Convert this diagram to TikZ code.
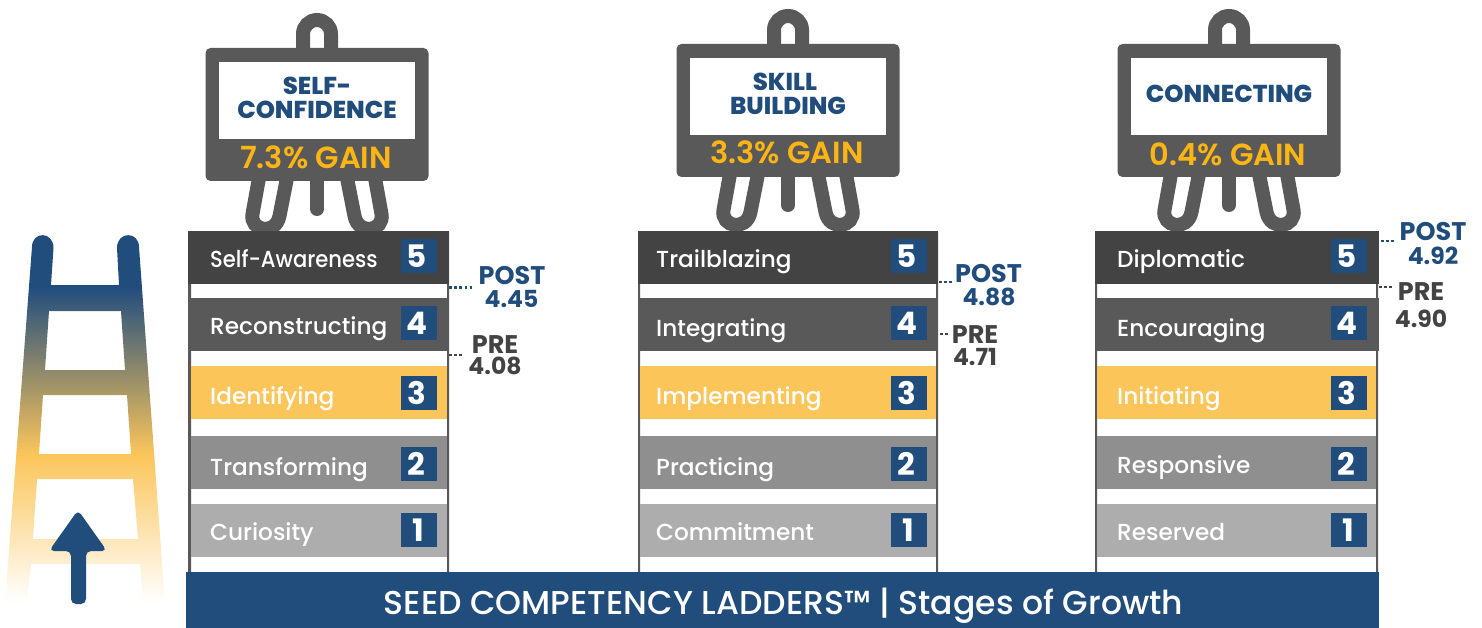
\documentclass[tikz,border=0pt]{standalone}
\usepackage{fontspec}
\usepackage{graphicx}
\setmainfont{Poppins}
\newfontfamily\pmed{Poppins}[UprightFont=* Medium]
\newfontfamily\psemi{Poppins}[UprightFont=* SemiBold]
\newfontfamily\pbold{Poppins}[UprightFont=* Bold]
\newfontfamily\pxbold{Poppins}[UprightFont=* ExtraBold]
\definecolor{navy}{HTML}{214D7D}
\definecolor{yel}{HTML}{FBC55A}
\definecolor{gold}{HTML}{FDB515}
\definecolor{g1}{HTML}{434343}
\definecolor{g2}{HTML}{595959}
\definecolor{g3}{HTML}{8F8F8F}
\definecolor{g4}{HTML}{ADADAD}
\pgfdeclareverticalshading{laddershade}{100bp}{color(0bp)=(white); color(25bp)=(white); color(45bp)=(yel); color(67.5bp)=(navy); color(100bp)=(navy)}
\tikzset{
  bar/.style={inner sep=0pt,outer sep=0pt,anchor=north west,draw=none},
  rowtext/.style={inner sep=0pt,anchor=base west,text=white,font=\pmed\fontsize{23.2}{23.2}\selectfont},
  numbox/.style={inner sep=0pt,anchor=north west,fill=navy,text=white,minimum width=36pt,minimum height=34pt,font=\pbold\fontsize{31}{31}\selectfont},
  lab/.style={inner sep=0pt,anchor=base,font=\pbold\fontsize{25.5}{25.5}\selectfont},
  val/.style={inner sep=0pt,anchor=base,font=\pbold\fontsize{23.5}{23.5}\selectfont},
  title/.style={inner sep=0pt,anchor=base,text=navy,font=\pxbold\fontsize{24.4}{24.4}\selectfont},
  gain/.style={inner sep=0pt,anchor=base,text=gold,font=\psemi\fontsize{30.5}{30.5}\selectfont},
  dotsline/.style={line width=2.4pt,dash pattern=on 2.6pt off 2.6pt},
  easelpart/.style={draw=g2,line width=14pt,fill=none},
}
% \boxx holds the x of the number boxes of the current table
% name, x0, x1, y0, colour, label x, baseline offset, label, number
\newcommand\rowbar[9]{%
  \node[bar,fill=#5,minimum width={(#3-#2)*1pt},minimum height=53pt] (#1) at (#2,#4) {};
  \node[rowtext] (#1t) at (#6,#4+#7) {#8};
  \node[numbox] (#1n) at (\boxx,#4+\ifcase#9 0\or 9\or 11\or 10\or 8\or 8\fi) {\raisebox{-1pt}{#9}\hspace*{\ifnum#9=1 2pt\else 5pt\fi}};
}
\newcommand\easel[1]{%
  \begin{scope}[shift={#1}]
    \draw[easelpart] (303,52) -- (303,34) .. controls (303,26.3) and (309.3,20) .. (317,20) .. controls (324.7,20) and (331,26.3) .. (331,34) -- (331,52);
    \draw[easelpart] (259,178) -- (252.5,214) .. controls (249.5,231) and (275.5,236) .. (279.5,216) -- (287,178);
    \draw[easelpart] (375,178) -- (381.5,214) .. controls (384.5,231) and (358.5,236) .. (354.5,216) -- (347,178);
    \draw[g2,line width=14pt,line cap=round] (317,178) -- (317,209);
    \fill[g2,rounded corners=5pt] (205.5,48) rectangle (428.5,181);
    \fill[white] (219,62) rectangle (415,139);
  \end{scope}
}
\begin{document}
\begin{tikzpicture}[x=1pt,y=-1pt]
\useasboundingbox (0,0) rectangle (1482,628);
% ladder
\shade[shading=laddershade,even odd rule]
  (32,247) .. controls (32,231) and (53.5,231) .. (53.5,248) -- (51,285) -- (119,285) -- (117,248)
  .. controls (117,231) and (139,231) .. (139,247) -- (165,603) -- (143,603) -- (140,564) -- (31,564) -- (27,603) -- (5,603) -- cycle
  (49,311) -- (121,311) -- (125,370) -- (45,370) -- cycle
  (43,395) -- (127,395) -- (131,454) -- (39,454) -- cycle
  (37,479) -- (133,479) -- (138,539) -- (33,539) -- cycle;
\fill[navy,rounded corners=5pt] (78,510) -- (107,551) -- (86,551) -- (86,604) -- (71,604) -- (71,551) -- (49,551) -- cycle;
% easels
\easel{(0,0)}
\easel{(471,-4)}
\easel{(912,-4)}
\node[title] (t1a) at (317,95) {SELF-};
\node[title] (t1b) at (317,119) {CONFIDENCE};
\node[gain] (g1t) at (316,169) {7.3\% GAIN};
\node[title] (t2a) at (785,91) {SKILL};
\node[title] (t2b) at (788,115) {BUILDING};
\node[gain] (g2t) at (787,164) {3.3\% GAIN};
\node[title] (t3a) at (1229,103) {CONNECTING};
\node[gain] (g3t) at (1228,166) {0.4\% GAIN};
% rails
\fill[g2] (188,232) rectangle (191,574) (447,232) rectangle (449,574);
\fill[g2] (638,232) rectangle (640,574) (936,232) rectangle (938,574);
\fill[g2] (1095,232) rectangle (1097,574) (1376,232) rectangle (1378,574);
% table 1
\def\boxx{401}
\rowbar{a5}{188}{449}{231}{g1}{210}{37}{\scalebox{0.91}[1]{Self-Awareness}}{5}
\rowbar{a4}{191}{447}{298}{g2}{210}{36}{Reconstructing}{4}
\rowbar{a3}{191}{447}{366}{yel}{210}{38}{Identifying}{3}
\rowbar{a2}{191}{447}{436}{g3}{210}{39}{Transforming}{2}
\rowbar{a1}{191}{447}{504}{g4}{210}{36}{Curiosity}{1}
% table 2
\def\boxx{891}
\rowbar{b5}{638}{938}{231}{g1}{656}{37}{Trailblazing}{5}
\rowbar{b4}{640}{936}{298}{g2}{656}{38}{Integrating}{4}
\rowbar{b3}{640}{936}{366}{yel}{656}{38}{Implementing}{3}
\rowbar{b2}{640}{936}{436}{g3}{656}{39}{Practicing}{2}
\rowbar{b1}{640}{936}{504}{g4}{656}{36}{Commitment}{1}
% table 3
\def\boxx{1331}
\rowbar{c5}{1095}{1379}{231}{g1}{1117}{37}{Diplomatic}{5}
\rowbar{c4}{1097}{1379}{298}{g2}{1117}{38}{Encouraging}{4}
\rowbar{c3}{1097}{1376}{366}{yel}{1117}{38}{Initiating}{3}
\rowbar{c2}{1097}{1376}{436}{g3}{1117}{37}{Responsive}{2}
\rowbar{c1}{1097}{1376}{504}{g4}{1117}{36}{Reserved}{1}
% base
\node[bar,fill=navy,minimum width=1193pt,minimum height=56pt] (base) at (186,572) {};
\node[inner sep=0pt,anchor=base,text=white,font=\pmed\fontsize{33}{33}\selectfont] (basetext) at (783.5,614) {SEED COMPETENCY LADDERS™ | Stages of Growth};
% score labels
\node[lab,text=navy] (post1) at (512,284) {POST};
\node[val,text=navy] (post1v) at (511.5,307) {4.45};
\node[lab,text=g1] (pre1) at (495,353) {PRE};
\node[val,text=g1] (pre1v) at (495,374) {4.08};
\node[lab,text=navy] (post2) at (988.5,282) {POST};
\node[val,text=navy] (post2v) at (989,305) {4.88};
\node[lab,text=g1] (pre2) at (975,343) {PRE};
\node[val,text=g1] (pre2v) at (975,365) {4.71};
\node[lab,text=navy] (post3) at (1433,241) {POST};
\node[val,text=navy] (post3v) at (1433,265) {4.92};
\node[lab,text=g1] (pre3) at (1421,300) {PRE};
\node[val,text=g1] (pre3v) at (1421,327) {4.90};
% connectors
\coordinate (d1a) at (449,287.5); \coordinate (d1b) at (473,287.5);
\coordinate (d2a) at (449,355); \coordinate (d2b) at (462,355);
\coordinate (d3a) at (939,282); \coordinate (d3b) at (952,282);
\coordinate (d4a) at (940,334); \coordinate (d4b) at (948,334);
\coordinate (d5a) at (1381,241); \coordinate (d5b) at (1396,241);
\coordinate (d6a) at (1379,287); \coordinate (d6b) at (1392,287);
\draw[dotsline,navy] (d1a) -- (d1b);
\draw[dotsline,g1] (d2a) -- (d2b);
\draw[dotsline,navy] (d3a) -- (d3b);
\draw[dotsline,g1] (d4a) -- (d4b);
\draw[dotsline,navy] (d5a) -- (d5b);
\draw[dotsline,g1] (d6a) -- (d6b);
\end{tikzpicture}
\end{document}
